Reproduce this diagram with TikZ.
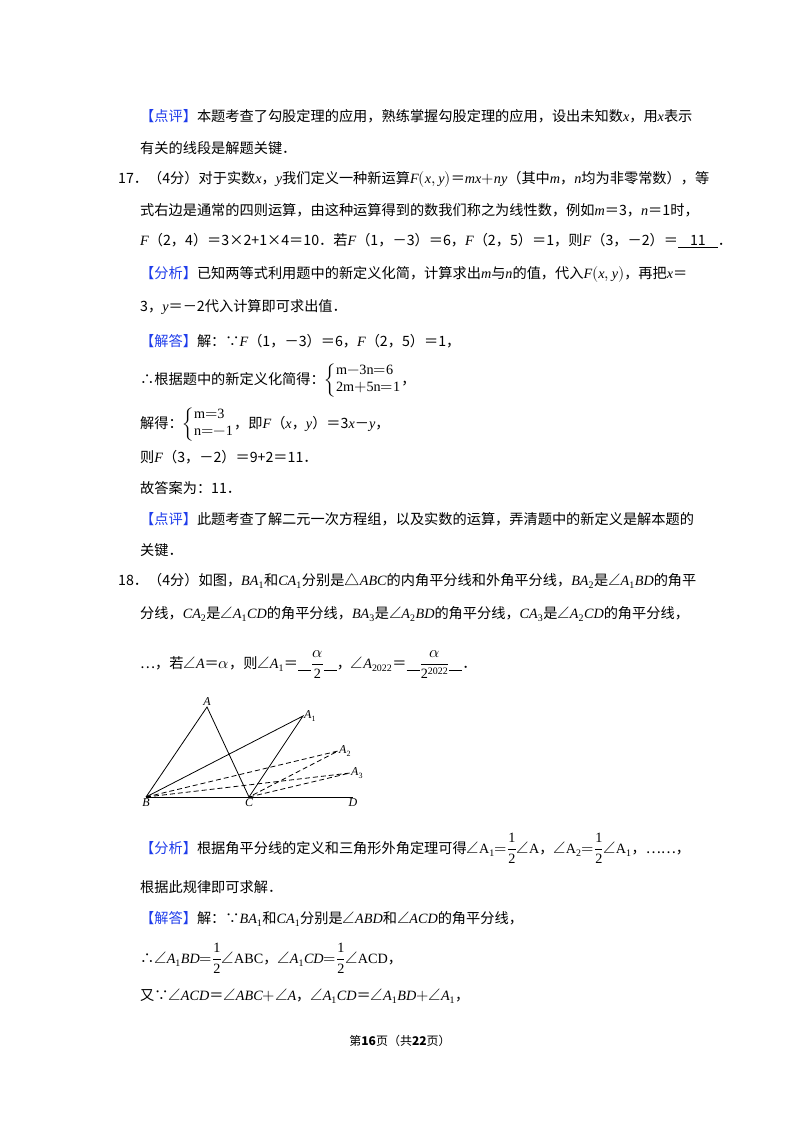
\documentclass[tikz,border=0pt]{standalone}
\usepackage{amsmath}
\usepackage{fontspec}
\usepackage{unicode-math}
\setmainfont{Liberation Serif}
\setmathfont{Latin Modern Math}[Scale=1.12]
\setmathfont{Liberation Serif Italic}[range={it/{latin,Latin}}]
\setmathfont{Liberation Serif}[range={up/{num,latin,Latin}}]
\newfontfamily\cjk{Noto Sans CJK SC}
\definecolor{hd}{RGB}{30,60,235}
\newcommand\hdr[1]{{\color{hd}【#1】}}
\newcommand\blank{\rule[-2.5pt]{13pt}{0.6pt}}
\begin{document}
\begin{tikzpicture}[x=1pt,y=-1pt,
 ln/.style={anchor=base west,inner sep=0,font=\fontsize{14.2}{17}\selectfont\cjk},
 lb/.style={inner sep=1pt,font=\fontsize{12}{14}\selectfont\itshape},
 sl/.style={line width=0.8pt},
 dl/.style={line width=0.8pt,dash pattern=on 5pt off 3pt}]
\useasboundingbox (0,0) rectangle (800,1132);
\fill[white] (0,0) rectangle (800,1132);
\node[ln] (l1) at (140,121) {\hdr{点评}本题考查了勾股定理的应用，熟练掌握勾股定理的应用，设出未知数$x$，用$x$表示};
\node[ln] (l2) at (140,153) {有关的线段是解题关键．};
\node[ln] (l3) at (118,183) {17．（4分）对于实数$x$，$y$我们定义一种新运算$F(x,y)$＝$mx{+}ny$（其中$m$，$n$均为非零常数），等};
\node[ln] (l4) at (140,215) {式右边是通常的四则运算，由这种运算得到的数我们称之为线性数，例如$m$＝3，$n$＝1时，};
\node[ln] (l5) at (140,245) {$F$（2，4）＝3×2+1×4＝10．若$F$（1，－3）＝6，$F$（2，5）＝1，则$F$（3，－2）＝\underline{\hbox to 12pt{}11\hbox to 12pt{}}．};
\node[ln] (l6) at (140,278) {\hdr{分析}已知两等式利用题中的新定义化简，计算求出$m$与$n$的值，代入$F(x,y)$，再把$x$＝};
\node[ln] (l7) at (140,311) {3，$y$＝－2代入计算即可求出值．};
\node[ln] (l8) at (140,346) {\hdr{解答}解：∵$F$（1，－3）＝6，$F$（2，5）＝1，};
\node[ln] (l9) at (140,384) {∴根据题中的新定义化简得：$\left\{\begin{array}{@{}l@{}}\mathrm{m{-}3n{=}6}\\ \mathrm{2m{+}5n{=}1}\end{array}\right.$，};
\node[ln] (l10) at (140,428) {解得：$\left\{\begin{array}{@{}l@{}}\mathrm{m{=}3}\\ \mathrm{n{=}{-}1}\end{array}\right.$，即$F$（$x$，$y$）＝3$x$－$y$，};
\node[ln] (l11) at (140,462) {则$F$（3，－2）＝9+2＝11．};
\node[ln] (l12) at (140,493) {故答案为：11．};
\node[ln] (l13) at (140,524) {\hdr{点评}此题考查了解二元一次方程组，以及实数的运算，弄清题中的新定义是解本题的};
\node[ln] (l14) at (140,555) {关键．};
\node[ln] (l15) at (118,585) {18．（4分）如图，$BA_1$和$CA_1$分别是$\triangle ABC$的内角平分线和外角平分线，$BA_2$是$\angle A_1BD$的角平};
\node[ln] (l16) at (140,618) {分线，$CA_2$是$\angle A_1CD$的角平分线，$BA_3$是$\angle A_2BD$的角平分线，$CA_3$是$\angle A_2CD$的角平分线，};
\node[ln] (l17) at (140,668) {…，若$\angle A$＝$\alpha$，则$\angle A_1$＝\blank$\dfrac{\alpha}{2}$\blank，$\angle A_{2022}$＝\blank$\dfrac{\alpha}{2^{2022}}$\blank．};
% figure
\coordinate (B) at (146,797); \coordinate (C) at (249,797); \coordinate (D) at (353,797);
\coordinate (A) at (207,707); \coordinate (A1) at (303,716); \coordinate (A2) at (338,751); \coordinate (A3) at (350,773);
\draw[sl] (B)--(D); \draw[sl] (B)--(A)--(C)--(A1)--(B);
\draw[dl] (B)--(A2)--(C); \draw[dl] (B)--(A3)--(C);
\node[lb,above] (nA) at (A) {$A$};
\node[lb,right] (nA1) at (A1) {$A_1$};
\node[lb,right] (nA2) at (A2) {$A_2$};
\node[lb,right] (nA3) at (A3) {$A_3$};
\node[lb,below] (nB) at (B) {$B$};
\node[lb,below] (nC) at (C) {$C$};
\node[lb,below] (nD) at (D) {$D$};
\node[ln] (l18) at (140,853) {\hdr{分析}根据角平分线的定义和三角形外角定理可得$\angle\mathrm{A}_1{=}\dfrac12\angle\mathrm{A}$，$\angle\mathrm{A}_2{=}\dfrac12\angle\mathrm{A}_1$，……，};
\node[ln] (l19) at (140,892) {根据此规律即可求解．};
\node[ln] (l20) at (140,923) {\hdr{解答}解：∵$BA_1$和$CA_1$分别是$\angle ABD$和$\angle ACD$的角平分线，};
\node[ln] (l21) at (140,963) {∴$\angle A_1BD{=}\dfrac12\angle\mathrm{ABC}$，$\angle A_1CD{=}\dfrac12\angle\mathrm{ACD}$，};
\node[ln] (l22) at (140,1000) {又∵$\angle ACD$＝$\angle ABC{+}\angle A$，$\angle A_1CD$＝$\angle A_1BD{+}\angle A_1$，};
\node[ln,anchor=base] (ft) at (400,1045) {\fontsize{12}{14}\selectfont 第\textbf{16}页（共\textbf{22}页）};
\end{tikzpicture}
\end{document}
